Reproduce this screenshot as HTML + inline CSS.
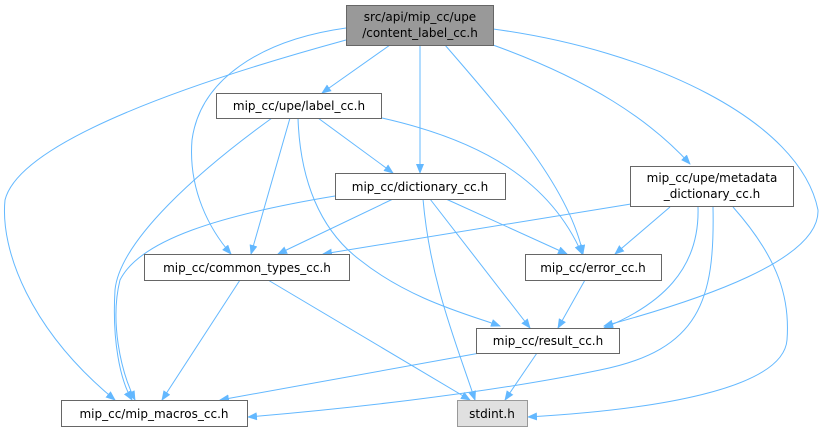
<!DOCTYPE html>
<html><head><meta charset="utf-8"><style>
html,body{margin:0;padding:0;background:#fff;}
svg{display:block;}
text{font-family:"DejaVu Sans","Liberation Sans",sans-serif;font-size:12px;fill:#000;}
.n{fill:#fff;stroke:#666;stroke-width:1;}
.e{fill:none;stroke:#63b8ff;stroke-width:1;}
</style></head><body>
<svg width="822" height="432" viewBox="0 0 822 432">
<defs><marker id="a" markerWidth="10" markerHeight="8" refX="9" refY="4" orient="auto" markerUnits="userSpaceOnUse"><path d="M0,0 L10,4 L0,8 z" fill="#63b8ff"/></marker></defs>
<g class="e" marker-end="url(#a)">
<path d="M390,45 L322,93"/>
<path d="M420,45 L420,173"/>
<path d="M493,45 C590,80 650,120 690,164"/>
<path d="M445,45 C510,120 570,190 583,254"/>
<path d="M493,29 C650,50 800,120 818,210 C820,260 700,300 604,326"/>
<path d="M346,28 C260,40 200,80 192,140 C188,190 210,230 231,254"/>
<path d="M346,40 C200,80 20,140 5,200 C0,250 30,330 115,400"/>
<path d="M272,118 C200,170 120,240 115,290 C112,340 120,380 132,400"/>
<path d="M290,118 L251,254"/>
<path d="M298,118 C300,180 320,230 360,260 C410,300 470,315 500,326"/>
<path d="M318,118 L393,173"/>
<path d="M382,118 C480,140 550,180 582,254"/>
<path d="M335,196 C220,215 140,240 120,280 C110,320 120,370 135,400"/>
<path d="M393,199 L278,254"/>
<path d="M423,199 C430,280 455,340 475,400"/>
<path d="M430,199 L530,328"/>
<path d="M446,199 L567,254"/>
<path d="M631,204 L323,254"/>
<path d="M670,207 L615,254"/>
<path d="M698,207 C700,270 660,305 604,328"/>
<path d="M713,207 C715,300 700,350 600,370 C480,395 330,410 248,417"/>
<path d="M733,207 C780,260 790,300 787,340 C783,390 650,410 528,417"/>
<path d="M240,280 L162,400"/>
<path d="M268,280 L470,400"/>
<path d="M585,280 L558,328"/>
<path d="M480,353 L220,400"/>
<path d="M537,353 L505,400"/>
</g>
<rect x="346.5" y="5.5" width="147" height="40" fill="#999" stroke="#666"/>
<text x="420" y="21" text-anchor="middle">src/api/mip_cc/upe</text>
<text x="420" y="37" text-anchor="middle">/content_label_cc.h</text>
<rect class="n" x="216.5" y="93.5" width="165" height="25"/>
<text x="299" y="110" text-anchor="middle">mip_cc/upe/label_cc.h</text>
<rect class="n" x="335.5" y="173.5" width="170" height="26"/>
<text x="420" y="191" text-anchor="middle">mip_cc/dictionary_cc.h</text>
<rect class="n" x="630.5" y="166.5" width="163" height="40"/>
<text x="712" y="182" text-anchor="middle">mip_cc/upe/metadata</text>
<text x="712" y="198" text-anchor="middle">_dictionary_cc.h</text>
<rect class="n" x="144.5" y="254.5" width="205" height="26"/>
<text x="247" y="272" text-anchor="middle">mip_cc/common_types_cc.h</text>
<rect class="n" x="525.5" y="254.5" width="136" height="26"/>
<text x="593" y="272" text-anchor="middle">mip_cc/error_cc.h</text>
<rect class="n" x="476.5" y="328.5" width="143" height="25"/>
<text x="548" y="345" text-anchor="middle">mip_cc/result_cc.h</text>
<rect class="n" x="61.5" y="400.5" width="186" height="26"/>
<text x="154" y="418" text-anchor="middle">mip_cc/mip_macros_cc.h</text>
<rect x="457.5" y="400.5" width="70" height="26" fill="#e0e0e0" stroke="#999"/>
<text x="492" y="418" text-anchor="middle">stdint.h</text>
</svg>
</body></html>
